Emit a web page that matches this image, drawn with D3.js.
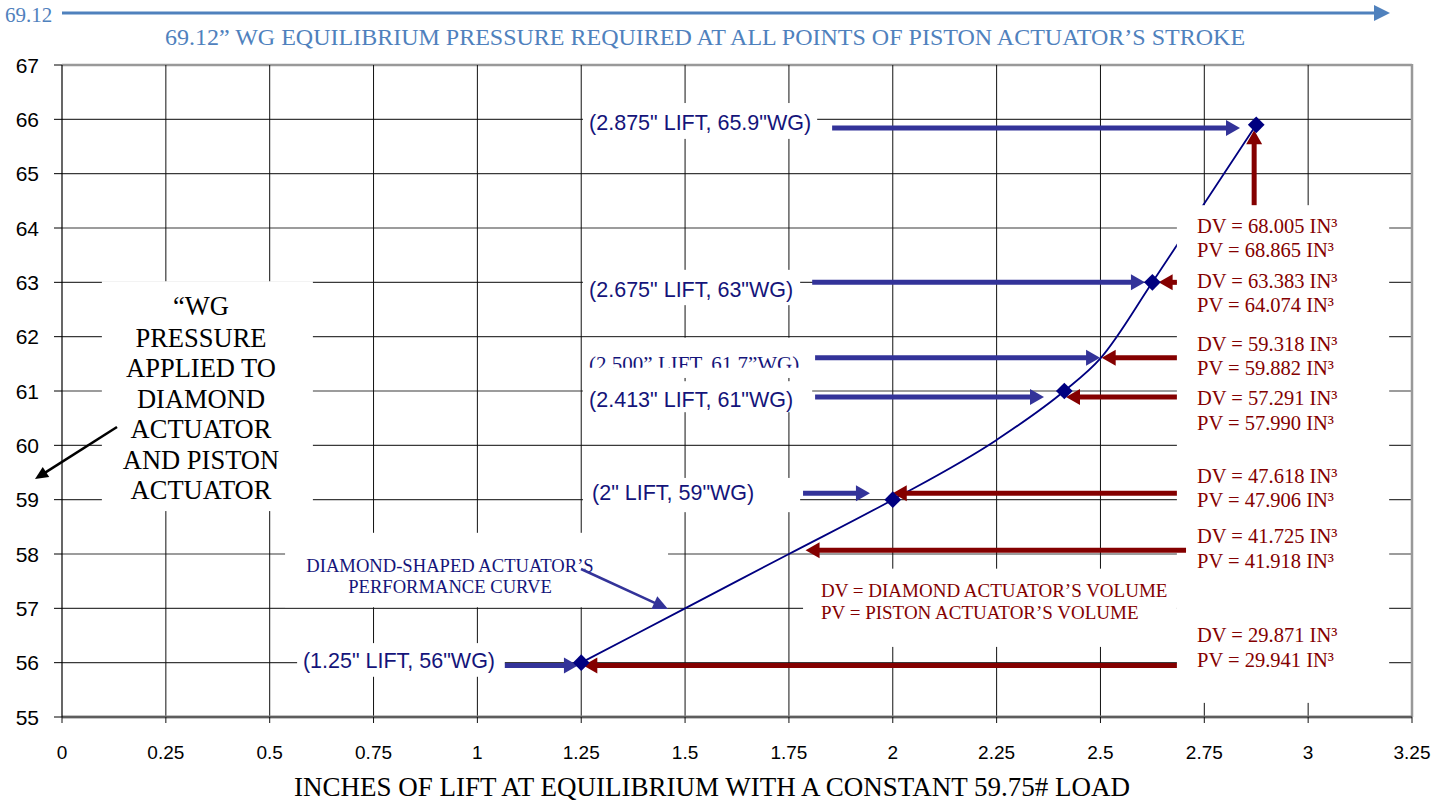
<!DOCTYPE html>
<html>
<head>
<meta charset="utf-8">
<script src="https://cdn.jsdelivr.net/npm/d3@7"></script>
<style>
  html, body { margin: 0; padding: 0; background: #fff; }
  svg { display: block; }
</style>
</head>
<body>
<svg id="chart" width="1447" height="804"></svg>
<script>
// performance curve of the diamond-shaped actuator
const curveLift = [1.25, 1.5, 1.75, 2, 2.25, 2.413, 2.5, 2.625, 2.75, 2.875]
const curvePressure = [56, 57, 58, 59, 60.1, 61, 61.6, 63, 64.45, 65.9]

// diamond markers
const markerLift = [1.25, 2, 2.413, 2.625, 2.875]
const markerPressure = [56, 59, 61, 63, 65.9]

const xTicks = [0, 0.25, 0.5, 0.75, 1, 1.25, 1.5, 1.75, 2, 2.25, 2.5, 2.75, 3, 3.25]
const yTicks = [55, 56, 57, 58, 59, 60, 61, 62, 63, 64, 65, 66, 67]

// lift / pressure call-outs (left x, baseline in data units)
const pointLabels = ['(2.875" LIFT, 65.9"WG)', '(2.675" LIFT, 63"WG)', '(2.413" LIFT, 61"WG)', '(2" LIFT, 59"WG)', '(1.25" LIFT, 56"WG)']
const pointLabelLift = [1.269, 1.269, 1.269, 1.276, 0.580]
const pointLabelPressure = [65.80, 62.73, 60.71, 59.0, 55.9]

// volume call-outs
const dvLabels = ['DV = 68.005 IN³', 'DV = 63.383 IN³', 'DV = 59.318 IN³', 'DV = 57.291 IN³', 'DV = 47.618 IN³', 'DV = 41.725 IN³', 'DV = 29.871 IN³']
const pvLabels = ['PV = 68.865 IN³', 'PV = 64.074 IN³', 'PV = 59.882 IN³', 'PV = 57.990 IN³', 'PV = 47.906 IN³', 'PV = 41.918 IN³', 'PV = 29.941 IN³']
const volLabelPressure = [63.91, 62.90, 61.74, 60.74, 59.31, 58.20, 56.38]

// arrows: [from lift, from pressure, tip lift, tip pressure]
const blueArrows = [
  [1.854, 65.84, 2.836, 65.84],
  [1.806, 63.0, 2.607, 63.0],
  [1.813, 61.61, 2.499, 61.61],
  [1.813, 60.89, 2.364, 60.89],
  [1.784, 59.12, 1.945, 59.12],
  [1.066, 55.95, 1.242, 55.95]
]
const redArrows = [
  [2.870, 64.42, 2.870, 65.80],
  [2.684, 63.0, 2.640, 63.0],
  [2.684, 61.61, 2.503, 61.61],
  [2.684, 60.89, 2.417, 60.89],
  [2.684, 59.12, 2.000, 59.12],
  [2.706, 58.07, 1.790, 58.07],
  [2.684, 55.95, 1.255, 55.95]
]

// white label backgrounds that hide the grid: [lift0, lift1, pressure top, pressure bottom]
const labelBoxes = [
  [1.254, 1.818, 66.30, 65.64],
  [1.254, 1.777, 63.23, 62.58],
  [1.254, 1.801, 61.98, 61.24],
  [1.254, 1.806, 61.18, 60.61],
  [1.254, 1.777, 59.40, 58.77],
  [0.566, 1.066, 56.36, 55.74],
  [0.537, 1.459, 58.39, 57.02],
  [1.784, 2.684, 57.73, 56.29],
  [2.684, 3.195, 64.42, 55.26],
  [0.096, 0.604, 63.02, 58.79]
]

const yLabelLines = ['“WG', 'PRESSURE', 'APPLIED TO', 'DIAMOND', 'ACTUATOR', 'AND PISTON', 'ACTUATOR']

const NAVY = '#000080'
const LABEL_BLUE = '#14147a'
const ARROW_BLUE = '#333399'
const DARK_RED = '#840000'
const STEEL = '#4f81bd'
const SERIF = '"Liberation Serif", "Times New Roman", serif'
const SANS = '"Liberation Sans", Arial, sans-serif'

const svg = d3.select('#chart')

const x = d3.scaleLinear().domain([0, 3.25]).range([62, 1412])
const y = d3.scaleLinear().domain([55, 67]).range([717, 65])

// Top banner
svg.append('text')
  .attr('x', 5).attr('y', 22)
  .attr('font-family', SERIF).attr('font-size', 21)
  .attr('fill', STEEL)
  .text('69.12')

function arrow(g, x0, y0, x1, y1, color, width, headLen, headHalf) {
  const dx = x1 - x0, dy = y1 - y0
  const len = Math.sqrt(dx * dx + dy * dy)
  const ux = dx / len, uy = dy / len
  const bx = x1 - ux * headLen, by = y1 - uy * headLen
  g.append('line')
    .attr('x1', x0).attr('y1', y0)
    .attr('x2', bx + ux * 1).attr('y2', by + uy * 1)
    .attr('stroke', color).attr('stroke-width', width)
  g.append('path')
    .attr('d', `M${x1},${y1}L${bx - uy * headHalf},${by + ux * headHalf}L${bx + uy * headHalf},${by - ux * headHalf}Z`)
    .attr('fill', color)
}

arrow(svg, 62, 13, 1390, 13, STEEL, 3, 16, 8)

svg.append('text')
  .attr('x', 705).attr('y', 45)
  .attr('text-anchor', 'middle')
  .attr('font-family', SERIF).attr('font-size', 24)
  .attr('fill', STEEL)
  .text('69.12” WG EQUILIBRIUM PRESSURE REQUIRED AT ALL POINTS OF PISTON ACTUATOR’S STROKE')

// Grid
const grid = svg.append('g')
grid.selectAll('line.h')
  .data(yTicks.slice(1))
  .join('line')
  .attr('class', 'h')
  .attr('x1', x(0)).attr('x2', x(3.25))
  .attr('y1', d => y(d)).attr('y2', d => y(d))
  .attr('stroke', d => d === 67 ? '#999' : '#3a3a3a')
  .attr('stroke-width', d => d === 67 ? 2.5 : 1.2)

grid.selectAll('line.v')
  .data(xTicks.slice(1, -1))
  .join('line')
  .attr('class', 'v')
  .attr('x1', d => x(d)).attr('x2', d => x(d))
  .attr('y1', y(67)).attr('y2', y(55))
  .attr('stroke', '#111').attr('stroke-width', 1)

// right border
grid.append('line')
  .attr('x1', x(3.25)).attr('x2', x(3.25))
  .attr('y1', y(67) - 1).attr('y2', y(55))
  .attr('stroke', '#999').attr('stroke-width', 2.5)

// Curve
const line = d3.line()
  .x((d, i) => x(curveLift[i]))
  .y(d => y(d))
  .curve(d3.curveMonotoneX)

svg.append('path')
  .datum(curvePressure)
  .attr('d', line)
  .attr('fill', 'none')
  .attr('stroke', NAVY)
  .attr('stroke-width', 1.8)

// White label backgrounds
svg.append('g').selectAll('rect')
  .data(labelBoxes)
  .join('rect')
  .attr('x', d => x(d[0]))
  .attr('y', d => y(d[2]))
  .attr('width', d => x(d[1]) - x(d[0]))
  .attr('height', d => y(d[3]) - y(d[2]))
  .attr('fill', '#fff')

// Axes
const xAxis = svg.append('g')
xAxis.append('line')
  .attr('x1', x(0)).attr('x2', x(3.25))
  .attr('y1', y(55)).attr('y2', y(55))
  .attr('stroke', '#888').attr('stroke-width', 3)
xAxis.append('line')
  .attr('x1', x(0)).attr('x2', x(3.25))
  .attr('y1', y(55)).attr('y2', y(55))
  .attr('stroke', '#333').attr('stroke-width', 1)
xAxis.selectAll('line.tick')
  .data(xTicks)
  .join('line')
  .attr('class', 'tick')
  .attr('x1', d => x(d)).attr('x2', d => x(d))
  .attr('y1', y(55)).attr('y2', y(55) + 6)
  .attr('stroke', '#111')
xAxis.selectAll('text')
  .data(xTicks)
  .join('text')
  .attr('x', d => x(d))
  .attr('y', y(55) + 42)
  .attr('text-anchor', 'middle')
  .attr('font-family', SANS).attr('font-size', 19)
  .attr('fill', '#000')
  .text(d => d3.format('~g')(d))

const yAxis = svg.append('g')
yAxis.append('line')
  .attr('x1', x(0)).attr('x2', x(0))
  .attr('y1', y(67)).attr('y2', y(55))
  .attr('stroke', '#000').attr('stroke-width', 1.2)
yAxis.selectAll('line.tick')
  .data(yTicks)
  .join('line')
  .attr('class', 'tick')
  .attr('x1', x(0) - 8).attr('x2', x(0))
  .attr('y1', d => y(d)).attr('y2', d => y(d))
  .attr('stroke', '#000')
yAxis.selectAll('text')
  .data(yTicks)
  .join('text')
  .attr('x', 39)
  .attr('y', d => y(d) + 7.5)
  .attr('text-anchor', 'end')
  .attr('font-family', SANS).attr('font-size', 21)
  .attr('fill', '#000')
  .text(d => d)

svg.append('text')
  .attr('x', 712).attr('y', 796)
  .attr('text-anchor', 'middle')
  .attr('font-family', SERIF).attr('font-size', 27)
  .attr('fill', '#000')
  .text('INCHES OF LIFT AT EQUILIBRIUM WITH A CONSTANT 59.75# LOAD')

// Y-axis description
const yLab = svg.append('text')
  .attr('text-anchor', 'middle')
  .attr('font-family', SERIF).attr('font-size', 26.5)
  .attr('fill', '#000')
yLab.selectAll('tspan')
  .data(yLabelLines)
  .join('tspan')
  .attr('x', 201)
  .attr('y', (d, i) => i === 0 ? 315 : 347 + (i - 1) * 30.4)
  .text(d => d)

arrow(svg, 117, 427, 35, 479, '#000', 2.5, 13, 6)

// Curve label + pointer
svg.append('text')
  .attr('text-anchor', 'middle')
  .attr('font-family', SERIF).attr('font-size', 18.6)
  .attr('fill', LABEL_BLUE)
  .selectAll('tspan')
  .data(['DIAMOND-SHAPED ACTUATOR’S', 'PERFORMANCE CURVE'])
  .join('tspan')
  .attr('x', 450)
  .attr('y', (d, i) => 572 + i * 20.5)
  .text(d => d)

arrow(svg, 581, 569, 668, 609, ARROW_BLUE, 2.5, 15, 7)

// Legend
svg.append('text')
  .attr('font-family', SERIF).attr('font-size', 19)
  .attr('fill', DARK_RED)
  .selectAll('tspan')
  .data(['DV = DIAMOND ACTUATOR’S VOLUME', 'PV = PISTON ACTUATOR’S VOLUME'])
  .join('tspan')
  .attr('x', 821)
  .attr('y', (d, i) => 597 + i * 21.5)
  .text(d => d)

// Arrows
const arrowLayer = svg.append('g')
blueArrows.forEach(a => arrow(arrowLayer, x(a[0]), y(a[1]), x(a[2]), y(a[3]), ARROW_BLUE, 5, 14, 8))
redArrows.forEach(a => arrow(arrowLayer, x(a[0]), y(a[1]), x(a[2]), y(a[3]), DARK_RED, 5, 14, 8))

// Markers
svg.append('g').selectAll('path')
  .data(markerPressure)
  .join('path')
  .attr('d', d3.symbol().type(d3.symbolSquare).size(140))
  .attr('transform', (d, i) => `translate(${x(markerLift[i])},${y(d)}) rotate(45)`)
  .attr('fill', NAVY)

// Point call-outs
svg.append('g').selectAll('text')
  .data(pointLabels)
  .join('text')
  .attr('x', (d, i) => x(pointLabelLift[i]))
  .attr('y', (d, i) => y(pointLabelPressure[i]))
  .attr('font-family', SANS).attr('font-size', 21.5)
  .attr('fill', LABEL_BLUE)
  .text(d => d)

// clipped 2.500" label
svg.append('clipPath').attr('id', 'clip25')
  .append('rect')
  .attr('x', x(1.254)).attr('y', y(61.98))
  .attr('width', x(1.801) - x(1.254))
  .attr('height', y(61.61) - y(61.98) + 10)
svg.append('text')
  .attr('clip-path', 'url(#clip25)')
  .attr('x', x(1.269)).attr('y', y(61.37))
  .attr('font-family', SERIF).attr('font-size', 21)
  .attr('fill', LABEL_BLUE)
  .text('(2.500” LIFT, 61.7”WG)')

// Volume call-outs
const vol = svg.append('g')
  .attr('font-family', SERIF).attr('font-size', 20.5)
  .attr('fill', DARK_RED)
vol.selectAll('text.dv')
  .data(dvLabels)
  .join('text')
  .attr('class', 'dv')
  .attr('x', 1197)
  .attr('y', (d, i) => y(volLabelPressure[i]))
  .text(d => d)
vol.selectAll('text.pv')
  .data(pvLabels)
  .join('text')
  .attr('class', 'pv')
  .attr('x', 1197)
  .attr('y', (d, i) => y(volLabelPressure[i]) + 24.5)
  .text(d => d)
</script>
</body>
</html>
